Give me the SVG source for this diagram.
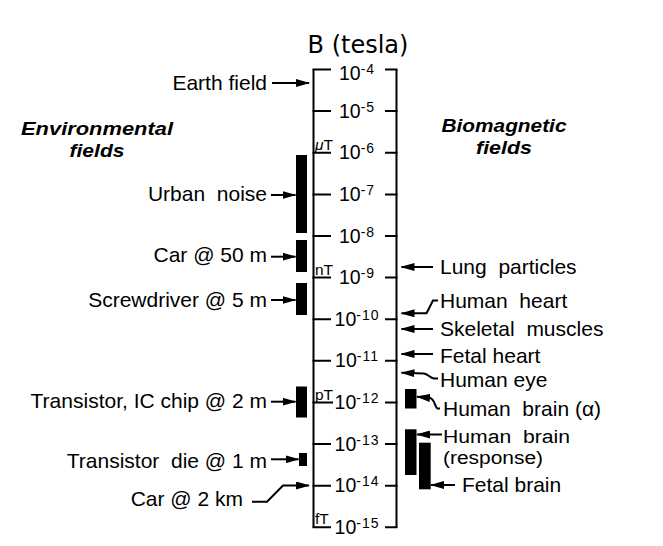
<svg xmlns="http://www.w3.org/2000/svg" width="663" height="546" viewBox="0 0 663 546">
<style>
.t{font-family:"Liberation Sans",Arial,Helvetica,sans-serif;font-size:21px;fill:#000}
.h{font-family:"Liberation Sans",Arial,Helvetica,sans-serif;font-size:19px;font-weight:bold;font-style:italic;fill:#000}
.n{font-family:"Liberation Sans",Arial,Helvetica,sans-serif;font-size:19.5px;fill:#000;text-anchor:middle}
.s{font-size:14px;letter-spacing:1px}
.u{font-family:"Liberation Sans",Arial,Helvetica,sans-serif;font-size:15.5px;fill:#000}
.ax{stroke:#000;stroke-width:2;fill:none}
.c{stroke:#000;stroke-width:2;fill:none;marker-end:url(#ah)}
.b{fill:#000}
</style>
<defs>
<marker id="ah" viewBox="0 0 14 8" refX="13" refY="4" markerWidth="14" markerHeight="8" markerUnits="userSpaceOnUse" orient="auto">
<path d="M0,0 L14,4 L0,8 z" fill="#000"/>
</marker>
</defs>
<rect width="663" height="546" fill="#fff"/>
<g id="title">
<text x="358" y="53" style="font-family:'DejaVu Sans',Verdana,sans-serif;font-size:24px" text-anchor="middle">B (tesla)</text>
</g>
<g id="axis">
<path class="ax" d="M313.5,69.5 V527.3 M396.5,69.5 V527.3"/>
<path class="ax" d="M312.5,69.5 H331 M385,69.5 H397.5 M312.5,111.1 H331 M385,111.1 H397.5 M312.5,152.7 H331 M385,152.7 H397.5 M312.5,194.4 H331 M385,194.4 H397.5 M312.5,236 H331 M385,236 H397.5 M312.5,277.6 H331 M385,277.6 H397.5 M312.5,319.2 H331 M385,319.2 H397.5 M312.5,360.8 H331 M385,360.8 H397.5 M312.5,402.5 H333 M385,402.5 H397.5 M312.5,444.1 H331 M385,444.1 H397.5 M312.5,485.7 H331 M385,485.7 H397.5 M312.5,527.3 H331 M385,527.3 H397.5"/>
<text class="n" x="357" y="79.5">10<tspan class="s" dy="-6">-4</tspan></text>
<text class="n" x="357" y="117.5">10<tspan class="s" dy="-6">-5</tspan></text>
<text class="n" x="357" y="159">10<tspan class="s" dy="-6">-6</tspan></text>
<text class="n" x="357" y="200.5">10<tspan class="s" dy="-6">-7</tspan></text>
<text class="n" x="357" y="242.5">10<tspan class="s" dy="-6">-8</tspan></text>
<text class="n" x="357" y="284">10<tspan class="s" dy="-6">-9</tspan></text>
<text class="n" x="357" y="325.5">10<tspan class="s" dy="-6">-10</tspan></text>
<text class="n" x="357" y="367">10<tspan class="s" dy="-6">-11</tspan></text>
<text class="n" x="357" y="409">10<tspan class="s" dy="-6">-12</tspan></text>
<text class="n" x="357" y="450.5">10<tspan class="s" dy="-6">-13</tspan></text>
<text class="n" x="357" y="492">10<tspan class="s" dy="-6">-14</tspan></text>
<text class="n" x="357" y="533.5">10<tspan class="s" dy="-6">-15</tspan></text>
<text class="u" x="315" y="150"><tspan font-style="italic">μ</tspan>T</text>
<text class="u" x="315" y="275">nT</text>
<text class="u" x="315" y="399.5">pT</text>
<text class="u" x="315" y="523.5">fT</text>
</g>
<g id="heading-environmental">
<text class="h" text-anchor="middle"><tspan x="97" y="135" textLength="152" lengthAdjust="spacingAndGlyphs">Environmental</tspan><tspan x="97" y="156.5" textLength="55" lengthAdjust="spacingAndGlyphs">fields</tspan></text>
</g>
<g id="heading-biomagnetic">
<text class="h" text-anchor="middle"><tspan x="504" y="132" textLength="125" lengthAdjust="spacingAndGlyphs">Biomagnetic</tspan><tspan x="504" y="153.5" textLength="56" lengthAdjust="spacingAndGlyphs">fields</tspan></text>
</g>
<g id="earth-field"><text class="t" x="267" y="89.5" text-anchor="end">Earth field</text></g>
<g id="urban-noise"><text class="t" x="267" y="201" text-anchor="end" xml:space="preserve">Urban  noise</text><rect class="b" x="296" y="155" width="11" height="78"/></g>
<g id="car-50m"><text class="t" x="267" y="262" text-anchor="end">Car @ 50 m</text><rect class="b" x="296" y="240" width="11" height="32"/></g>
<g id="screwdriver"><text class="t" x="267" y="306.5" text-anchor="end">Screwdriver @ 5 m</text><rect class="b" x="296" y="283" width="11" height="32"/></g>
<g id="transistor-ic"><text class="t" x="267" y="408" text-anchor="end">Transistor, IC chip @ 2 m</text><rect class="b" x="296" y="386.5" width="11" height="31"/></g>
<g id="transistor-die"><text class="t" x="267" y="467.5" text-anchor="end" xml:space="preserve">Transistor  die @ 1 m</text><rect class="b" x="299" y="453" width="8" height="13"/></g>
<g id="car-2km"><text class="t" x="243" y="506" text-anchor="end">Car @ 2 km</text></g>
<g id="lung"><text class="t" x="440" y="274" xml:space="preserve">Lung  particles</text></g>
<g id="human-heart"><text class="t" x="440" y="308.3" xml:space="preserve">Human  heart</text></g>
<g id="skeletal"><text class="t" x="440" y="336" xml:space="preserve">Skeletal  muscles</text></g>
<g id="fetal-heart"><text class="t" x="440" y="362.5">Fetal heart</text></g>
<g id="human-eye"><text class="t" x="440" y="386.7">Human eye</text></g>
<g id="brain-alpha"><text class="t" x="443" y="415.5" xml:space="preserve">Human  brain (α)</text><rect class="b" x="405" y="389" width="11.5" height="19.5"/></g>
<g id="brain-response"><text class="t" style="font-size:18px" xml:space="preserve"><tspan x="443" y="443" textLength="127" lengthAdjust="spacingAndGlyphs">Human  brain</tspan><tspan x="443" y="463.7" textLength="100" lengthAdjust="spacingAndGlyphs">(response)</tspan></text><rect class="b" x="405" y="429.3" width="11.5" height="45.7"/></g>
<g id="fetal-brain"><text class="t" x="462" y="491.7">Fetal brain</text><rect class="b" x="419" y="442.7" width="11.7" height="46.6"/></g>
<g id="connectors">
<path class="c" d="M272,83 H309"/>
<path class="c" d="M271,195 H295.5"/>
<path class="c" d="M271,256.7 H295.5"/>
<path class="c" d="M271,300 H295.5"/>
<path class="c" d="M271,401.7 H295.5"/>
<path class="c" d="M271,459.3 H298.5"/>
<path class="c" d="M252,501.7 H267 L283,485.5 H309"/>
<path class="c" d="M433,267 H401.5"/>
<path class="c" d="M438,300.5 H433 L426.5,313.3 H401.5"/>
<path class="c" d="M433,329 H401.5"/>
<path class="c" d="M433,354 H401.5"/>
<path class="c" d="M438,378.5 H434 C430,378 428,374 424,373.5 L401.5,372.7"/>
<path class="c" d="M440,408.5 H437.5 C435,408 435,399 430,398 L417,396.7"/>
<path class="c" d="M442,434.5 H417"/>
<path class="c" d="M455,485 H431"/>
</g>
</svg>
